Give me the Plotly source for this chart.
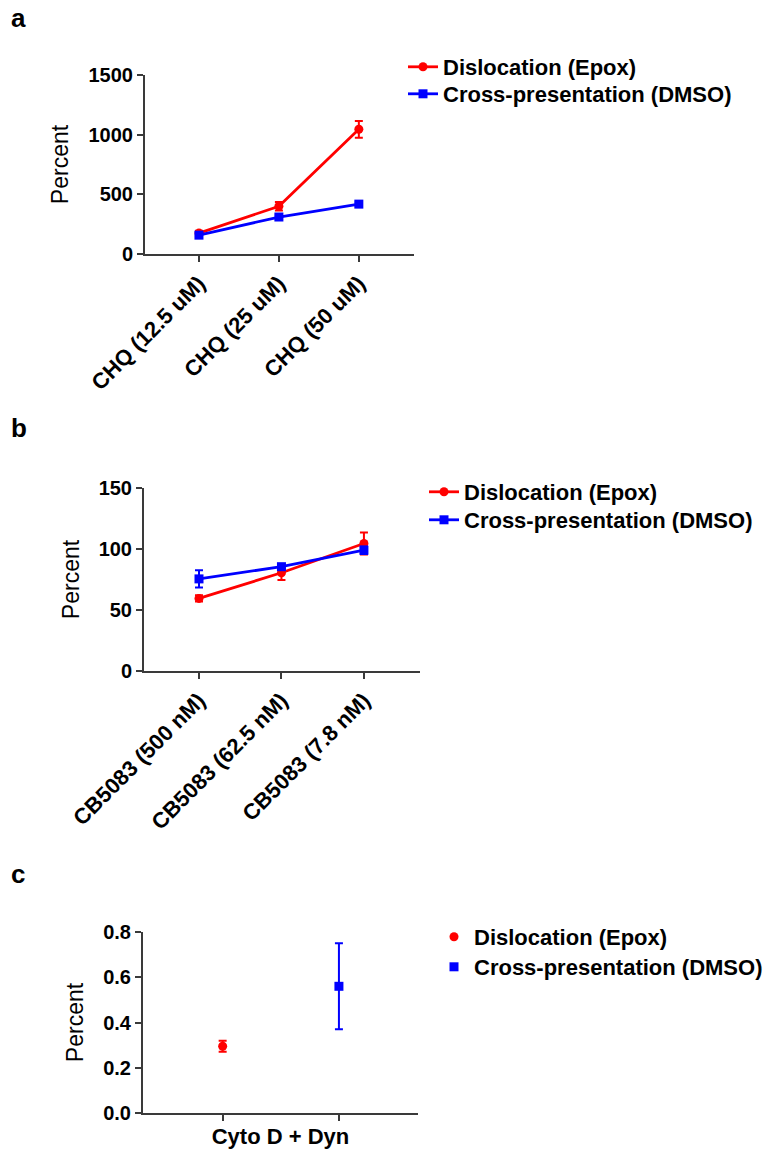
import plotly.graph_objects as go

# Panel a: chloroquine titration
chq_labels = ["CHQ (12.5 uM)", "CHQ (25 uM)", "CHQ (50 uM)"]
chq_disloc = [175, 400, 1045]
chq_disloc_err = [20, 35, 70]
chq_xpres = [158, 310, 418]
chq_xpres_err = [10, 15, 15]

# Panel b: CB5083 titration
cb_labels = ["CB5083 (500 nM)", "CB5083 (62.5 nM)", "CB5083 (7.8 nM)"]
cb_disloc = [59.5, 80.5, 104.5]
cb_disloc_err = [2.5, 6, 9]
cb_xpres = [75.5, 85.5, 99]
cb_xpres_err = [7, 1.5, 3]

# Panel c: Cyto D + Dyn
cd_label = "Cyto D + Dyn"
cd_disloc = [0.295]
cd_disloc_err = [0.024]
cd_xpres = [0.56]
cd_xpres_err = [0.19]

series_names = ["Dislocation (Epox)", "Cross-presentation (DMSO)"]
RED = "#ff0000"
BLUE = "#0000ff"
FONT = "Liberation Sans, Arial, sans-serif"
AXCOL = "#3a3a3a"

W, H = 768, 1150


def xd(a, b):
    return [a / W, b / W]


def yd(top, bottom):
    return [1 - bottom / H, 1 - top / H]


def line_trace(x, y, err, name, color, symbol, xa, ya, leg, lines=True):
    return go.Scatter(
        x=x, y=y, name=name, mode="lines+markers" if lines else "markers",
        line=dict(color=color, width=2.8),
        marker=dict(symbol=symbol, size=9, color=color),
        error_y=dict(type="data", array=err, color=color, thickness=2, width=4),
        xaxis=xa, yaxis=ya, legend=leg)


fig = go.Figure()

# one legend per entry so the rows can sit tightly together
xs = list(range(len(chq_labels)))
fig.add_trace(line_trace(xs, chq_disloc, chq_disloc_err, series_names[0], RED, "circle", "x", "y", "legend"))
fig.add_trace(line_trace(xs, chq_xpres, chq_xpres_err, series_names[1], BLUE, "square", "x", "y", "legend2"))

xs = list(range(len(cb_labels)))
fig.add_trace(line_trace(xs, cb_disloc, cb_disloc_err, series_names[0], RED, "circle", "x2", "y2", "legend3"))
fig.add_trace(line_trace(xs, cb_xpres, cb_xpres_err, series_names[1], BLUE, "square", "x2", "y2", "legend4"))

fig.add_trace(line_trace([0], cd_disloc, cd_disloc_err, series_names[0], RED, "circle", "x3", "y3", "legend5", lines=False))
fig.add_trace(line_trace([1], cd_xpres, cd_xpres_err, series_names[1], BLUE, "square", "x3", "y3", "legend6", lines=False))

tickfont = dict(family=FONT, size=20, color="black", weight="bold")
xtickfont = dict(family=FONT, size=22, color="black", weight="bold")
titlefont = dict(family=FONT, size=23, color="black")
legfont = dict(family=FONT, size=22, color="black", weight="bold")

common_x = dict(showline=True, linecolor=AXCOL, linewidth=2, ticks="outside",
                ticklen=6, tickwidth=2, tickcolor=AXCOL, showgrid=False,
                zeroline=False, tickfont=xtickfont, automargin=False)
common_y = dict(showline=True, linecolor=AXCOL, linewidth=2, ticks="outside",
                ticklen=6, tickwidth=2, tickcolor=AXCOL, showgrid=False,
                zeroline=False, tickfont=tickfont, automargin=False,
                title=dict(text="Percent", font=titlefont, standoff=13))


def legend_at(xpx, toppx):
    return dict(x=xpx / W, y=1 - toppx / H, xanchor="left", yanchor="top",
                font=legfont, bgcolor="rgba(0,0,0,0)", itemwidth=30)


fig.update_layout(
    width=W, height=H, margin=dict(l=0, r=0, t=0, b=0, autoexpand=False),
    paper_bgcolor="white", plot_bgcolor="white",
    font=dict(family=FONT, color="black"),
    xaxis=dict(common_x, domain=xd(145, 414), range=[-0.675, 2.69], anchor="y",
               tickmode="array", tickvals=list(range(3)), ticktext=chq_labels,
               tickangle=-45),
    yaxis=dict(common_y, domain=yd(75, 254), range=[0, 1500], anchor="x",
               tickvals=[0, 500, 1000, 1500]),
    xaxis2=dict(common_x, domain=xd(144, 420), range=[-0.667, 2.68], anchor="y2",
                tickmode="array", tickvals=list(range(3)), ticktext=cb_labels,
                tickangle=-45),
    yaxis2=dict(common_y, domain=yd(488, 671), range=[0, 150], anchor="x2",
                tickvals=[0, 50, 100, 150]),
    xaxis3=dict(common_x, domain=xd(143, 418), range=[-0.685, 1.68], anchor="y3",
                tickmode="array", tickvals=[0, 1], ticktext=["", ""],
                title=dict(text=cd_label, font=legfont, standoff=4)),
    yaxis3=dict(common_y, domain=yd(932, 1113), range=[0, 0.8], anchor="x3",
                tickvals=[0, 0.2, 0.4, 0.6, 0.8], tickformat=".1f"),
    legend=legend_at(403, 46),
    legend2=legend_at(403, 73),
    legend3=legend_at(424, 471),
    legend4=legend_at(424, 499),
    legend5=legend_at(434, 916),
    legend6=legend_at(434, 946),
    showlegend=True,
)

# panel letters
for letter, ypx in [("a", 18), ("b", 428), ("c", 874)]:
    fig.add_annotation(text=letter, x=9 / W, y=1 - ypx / H, xref="paper", yref="paper",
                       xanchor="left", yanchor="middle", showarrow=False,
                       font=dict(family=FONT, size=26, color="black", weight="bold"))

fig.write_html("out.html")
